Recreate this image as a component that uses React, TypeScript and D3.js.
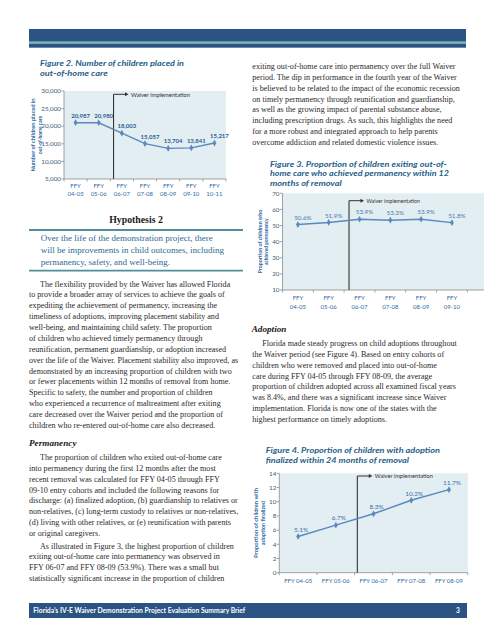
import React from "react";
import * as d3 from "d3";

// ---------------- Data ----------------
const fig2Years = ["04-05", "05-06", "06-07", "07-08", "08-09", "09-10", "10-11"];
const fig2Values = [20987, 20980, 18003, 15057, 13704, 13841, 15217];
const fig2Ticks = [5000, 10000, 15000, 20000, 25000, 30000];

const fig3Years = ["04-05", "05-06", "06-07", "07-08", "08-09", "09-10"];
const fig3Values = [50.6, 51.9, 53.9, 53.3, 53.9, 51.8];
const fig3Ticks = [10, 20, 30, 40, 50, 60, 70];

const fig4Years = ["FFY 04-05", "FFY 05-06", "FFY 06-07", "FFY 07-08", "FFY 08-09"];
const fig4Values = [5.1, 6.7, 8.3, 10.2, 11.7];
const fig4Ticks = [0, 2, 4, 6, 8, 10, 12, 14];

// ---------------- Text ----------------
const para1 = [
  "The flexibility provided by the Waiver has allowed Florida",
  "to provide a broader array of services to achieve the goals of",
  "expediting the achievement of permanency, increasing the",
  "timeliness of adoptions, improving placement stability and",
  "well-being, and maintaining child safety. The proportion",
  "of children who achieved timely permanency through",
  "reunification, permanent guardianship, or adoption increased",
  "over the life of the Waiver. Placement stability also improved, as",
  "demonstrated by an increasing proportion of children with two",
  "or fewer placements within 12 months of removal from home.",
  "Specific to safety, the number and proportion of children",
  "who experienced a recurrence of maltreatment after exiting",
  "care decreased over the Waiver period and the proportion of",
  "children who re-entered out-of-home care also decreased.",
];
const para2 = [
  "The proportion of children who exited out-of-home care",
  "into permanency during the first 12 months after the most",
  "recent removal was calculated for FFY 04-05 through FFY",
  "09-10 entry cohorts and included the following reasons for",
  "discharge: (a) finalized adoption, (b) guardianship to relatives or",
  "non-relatives, (c) long-term custody to relatives or non-relatives,",
  "(d) living with other relatives, or (e) reunification with parents",
  "or original caregivers.",
];
const para3 = [
  "As illustrated in Figure 3, the highest proportion of children",
  "exiting out-of-home care into permanency was observed in",
  "FFY 06-07 and FFY 08-09 (53.9%). There was a small but",
  "statistically significant increase in the proportion of children",
];
const paraR1 = [
  "exiting out-of-home care into permanency over the full Waiver",
  "period. The dip in performance in the fourth year of the Waiver",
  "is believed to be related to the impact of the economic recession",
  "on timely permanency through reunification and guardianship,",
  "as well as the growing impact of parental substance abuse,",
  "including prescription drugs. As such, this highlights the need",
  "for a more robust and integrated approach to help parents",
  "overcome addiction and related domestic violence issues.",
];
const paraR2 = [
  "Florida made steady progress on child adoptions throughout",
  "the Waiver period (see Figure 4). Based on entry cohorts of",
  "children who were removed and placed into out-of-home",
  "care during FFY 04-05 through FFY 08-09, the average",
  "proportion of children adopted across all examined fiscal years",
  "was 8.4%, and there was a significant increase since Waiver",
  "implementation. Florida is now one of the states with the",
  "highest performance on timely adoptions.",
];
const hypothesisLines = [
  "Over the life of the demonstration project, there",
  "will be improvements in child outcomes, including",
  "permanency, safety, and well-being.",
];

// ---------------- Styles ----------------
const SANS = "Lato, 'Open Sans', 'DejaVu Sans', sans-serif";
const SERIF = "'Liberation Serif', 'DejaVu Serif', serif";
const NAVY = "#2b5384";
const TEAL = "#7ab3b6";
const TITLE_BLUE = "#1f5f8b";
const AXIS_BLUE = "#2f6aa3";
const LINE_BLUE = "#5a88bf";
const BODY = "#2a2a2a";
const PLOT_BG = "#e2eef1";

type ChartProps = {
  labels: string[][];
  values: number[];
  yDomain: [number, number];
  yTicks: number[];
  tickFmt: (v: number) => string;
  labelFmt: (v: number) => string;
  left: number;
  right: number;
  top: number;
  bottom: number;
  bgRight: number;
  waiverAfter: number;
  waiverFrac: number;
  waiverDy: number;
  waiverTextLen: number;
  yTitle: string[];
  yTitleX: number[];
  yTitleLen: number[];
  xLabelY: number[];
  labelDx: number;
  labelWeight: number;
  labelColor: string;
  labelSize: number;
};

function LineChart(p: ChartProps) {
  const ids = p.labels.map((_, i) => String(i));
  const x = d3.scalePoint<string>().domain(ids).range([p.left, p.right]).padding(0.5);
  const band = d3.scaleBand<string>().domain(ids).range([p.left, p.right]);
  const y = d3.scaleLinear().domain(p.yDomain).range([p.bottom, p.top]);
  const line = d3
    .line<number>()
    .x((_, i) => x(ids[i]) as number)
    .y((v) => y(v));
  const step = x.step();
  const wx = (x(ids[p.waiverAfter]) as number) + p.waiverFrac * step;
  const wy = p.top + p.waiverDy;
  const arrowLen = 15;
  const tip = wx + arrowLen;
  const boundaries = ids.map((id) => band(id) as number).concat([p.right]);
  const marker = d3.symbol(d3.symbolDiamond, 13)() as string;
  const yMid = (p.top + p.bottom) / 2;

  return (
    <g>
      <rect x={p.left} y={p.top} width={p.bgRight - p.left} height={p.bottom - p.top} fill={PLOT_BG} />
      {/* y axis */}
      <line x1={p.left} x2={p.left} y1={p.top} y2={p.bottom} stroke="#8c8c8c" strokeWidth={0.8} />
      {p.yTicks.map((t) => (
        <g key={t}>
          <line x1={p.left - 2.5} x2={p.left} y1={y(t)} y2={y(t)} stroke="#8c8c8c" strokeWidth={0.8} />
          <text
            x={p.left - 3}
            y={y(t)}
            dy="0.35em"
            textAnchor="end"
            fontFamily={SANS}
            fontSize={6.3}
            fill="#3d5a78"
          >
            {p.tickFmt(t)}
          </text>
        </g>
      ))}
      {/* x axis */}
      <line x1={p.left} x2={p.bgRight} y1={p.bottom} y2={p.bottom} stroke="#8c8c8c" strokeWidth={0.8} />
      {boundaries.map((b, i) => (
        <line key={i} x1={b} x2={b} y1={p.bottom} y2={p.bottom + 2.5} stroke="#8c8c8c" strokeWidth={0.8} />
      ))}
      {p.labels.map((lines, i) =>
        lines.map((l, j) => (
          <text
            key={i + "-" + j}
            x={x(ids[i]) as number}
            y={p.xLabelY[j]}
            dy="0.35em"
            textAnchor="middle"
            fontFamily={SANS}
            fontSize={6}
            fill={AXIS_BLUE}
          >
            {l}
          </text>
        ))
      )}
      {/* y title */}
      {p.yTitle.map((t, i) => (
        <text
          key={t}
          transform={`translate(${p.yTitleX[i]},${yMid}) rotate(-90)`}
          dy="0.35em"
          textAnchor="middle"
          fontFamily={SANS}
          fontWeight={700}
          fontSize={6.3}
          fill={AXIS_BLUE}
          textLength={p.yTitleLen[i]}
          lengthAdjust="spacingAndGlyphs"
        >
          {t}
        </text>
      ))}
      {/* waiver marker */}
      <line x1={wx} x2={wx} y1={p.bottom} y2={wy} stroke="#333" strokeWidth={1.1} />
      <line x1={wx} x2={tip - 3} y1={wy} y2={wy} stroke="#333" strokeWidth={1} />
      <path d={`M${tip},${wy} L${tip - 3.5},${wy - 2} L${tip - 3.5},${wy + 2} Z`} fill="#333" />
      <text
        x={tip + 2.5}
        y={wy}
        dy="0.35em"
        fontFamily={SANS}
        fontSize={6.3}
        fill="#333"
        textLength={p.waiverTextLen}
        lengthAdjust="spacingAndGlyphs"
      >
        Waiver implementation
      </text>
      {/* line */}
      <path d={line(p.values) as string} fill="none" stroke={LINE_BLUE} strokeWidth={1.4} />
      {p.values.map((v, i) => (
        <path key={i} d={marker} transform={`translate(${x(ids[i])},${y(v)})`} fill={LINE_BLUE} />
      ))}
      {p.values.map((v, i) => (
        <text
          key={"l" + i}
          x={(x(ids[i]) as number) + p.labelDx}
          y={y(v) - 7}
          dy="0.35em"
          textAnchor="middle"
          fontFamily={SANS}
          fontWeight={p.labelWeight}
          fontSize={p.labelSize}
          fill={p.labelColor}
        >
          {p.labelFmt(v)}
        </text>
      ))}
    </g>
  );
}

function Para({
  lines,
  x,
  indent,
  y0,
  step,
  size = 8.1,
}: {
  lines: string[];
  x: number;
  indent: number;
  y0: number;
  step: number;
  size?: number;
}) {
  return (
    <g>
      {lines.map((l, i) => (
        <text
          key={i}
          x={i === 0 ? x + indent : x}
          y={y0 + i * step}
          dy="0.32em"
          fontFamily={SERIF}
          fontSize={size}
          fill={BODY}
        >
          {l}
        </text>
      ))}
    </g>
  );
}

function Title({ lines, x, ys, lens }: { lines: string[]; x: number; ys: number[]; lens: number[] }) {
  return (
    <g>
      {lines.map((l, i) => (
        <text
          key={i}
          x={x}
          y={ys[i]}
          fontFamily={SANS}
          fontWeight={700}
          fontStyle="italic"
          fontSize={8}
          fill={TITLE_BLUE}
          textLength={lens[i]}
          lengthAdjust="spacingAndGlyphs"
        >
          {l}
        </text>
      ))}
    </g>
  );
}

const fmtComma = d3.format(",");

export default function App() {
  return (
    <svg
      width={495}
      height={640}
      style={{ position: "absolute", left: 0, top: 0, background: "#fff" }}
    >
      {/* header bar */}
      <rect x={29} y={29} width={437} height={18.7} fill={NAVY} />
      <rect x={29} y={41.3} width={437} height={2.6} fill={TEAL} />

      {/* Figure 2 */}
      <Title
        lines={["Figure 2. Number of children placed in", "out-of-home care"]}
        x={40}
        ys={[66, 75.7]}
        lens={[144, 67.7]}
      />
      <LineChart
        labels={fig2Years.map((y) => ["FFY", y])}
        values={fig2Values}
        yDomain={[5000, 30000]}
        yTicks={fig2Ticks}
        tickFmt={(v) => fmtComma(v)}
        labelFmt={(v) => fmtComma(v)}
        left={64}
        right={226}
        bgRight={226}
        top={91}
        bottom={179}
        waiverAfter={1}
        waiverFrac={0.64}
        waiverDy={3.3}
        waiverTextLen={59}
        yTitle={["Number of children placed in", "out-of-home care"]}
        yTitleX={[32.3, 40]}
        yTitleLen={[73, 38]}
        xLabelY={[186, 194]}
        labelDx={5}
        labelWeight={700}
        labelColor="#2d5d96"
        labelSize={6}
      />

      {/* Hypothesis */}
      <text x={136} y={220} dy="0.35em" textAnchor="middle" fontFamily={SERIF} fontWeight={700} fontSize={9.8} fill="#1a1a1a">
        Hypothesis 2
      </text>
      <line x1={29} x2={243} y1={230} y2={230} stroke="#4f8f9a" strokeWidth={1.8} />
      <line x1={29} x2={243} y1={270.7} y2={270.7} stroke="#4f8f9a" strokeWidth={1.8} />
      {hypothesisLines.map((l, i) => (
        <text key={i} x={40.7} y={238.3 + i * 11.8} dy="0.33em" fontFamily={SERIF} fontSize={9} fill="#2d6a8e">
          {l}
        </text>
      ))}

      <Para lines={para1} x={29} indent={11} y0={284} step={10.87} />
      <text x={29} y={442.7} dy="0.33em" fontFamily={SERIF} fontWeight={700} fontStyle="italic" fontSize={9.2} fill="#1a1a1a">
        Permanency
      </text>
      <Para lines={para2} x={29} indent={11} y0={457.3} step={10.9} />
      <Para lines={para3} x={29} indent={11} y0={546} step={10.9} />

      {/* Right column */}
      <Para lines={paraR1} x={252.3} indent={0} y0={66.7} step={10.8} />

      <Title
        lines={[
          "Figure 3. Proportion of children exiting out-of-",
          "home care who achieved permanency within 12",
          "months of removal",
        ]}
        x={270}
        ys={[166.8, 176.3, 185.8]}
        lens={[176.7, 179, 71.7]}
      />
      <LineChart
        labels={fig3Years.map((y) => ["FFY", y])}
        values={fig3Values}
        yDomain={[10, 70]}
        yTicks={fig3Ticks}
        tickFmt={(v) => String(v)}
        labelFmt={(v) => v.toFixed(1) + "%"}
        left={282.5}
        right={467.3}
        bgRight={484}
        top={193.3}
        bottom={290}
        waiverAfter={1}
        waiverFrac={0.66}
        waiverDy={7.4}
        waiverTextLen={53.3}
        yTitle={["Proportion of children who", "achieved permanency"]}
        yTitleX={[259.3, 265.7]}
        yTitleLen={[63.7, 46.6]}
        xLabelY={[297.7, 306.7]}
        labelDx={5}
        labelWeight={400}
        labelColor="#4a7bb0"
        labelSize={6.3}
      />

      <text x={251.7} y={329.3} dy="0.33em" fontFamily={SERIF} fontWeight={700} fontStyle="italic" fontSize={9.2} fill="#1a1a1a">
        Adoption
      </text>
      <Para lines={paraR2} x={252.3} indent={10} y0={343.3} step={10.9} />

      <Title
        lines={["Figure 4. Proportion of children with adoption", "finalized within 24 months of removal"]}
        x={265.7}
        ys={[453.3, 463.3]}
        lens={[174.3, 143.3]}
      />
      <LineChart
        labels={fig4Years.map((y) => [y])}
        values={fig4Values}
        yDomain={[0, 14]}
        yTicks={fig4Ticks}
        tickFmt={(v) => String(v)}
        labelFmt={(v) => v.toFixed(1) + "%"}
        left={279.3}
        right={467.8}
        bgRight={467.8}
        top={473.3}
        bottom={572.7}
        waiverAfter={1}
        waiverFrac={0.57}
        waiverDy={2.7}
        waiverTextLen={58}
        yTitle={["Proportion of children with", "adoption finalized"]}
        yTitleX={[256, 262.3]}
        yTitleLen={[70, 44.3]}
        xLabelY={[580.7]}
        labelDx={3}
        labelWeight={400}
        labelColor="#3b6ea5"
        labelSize={6.5}
      />

      {/* footer */}
      <rect x={29} y={603} width={438} height={15} fill={NAVY} />
      <text
        x={33.3}
        y={611}
        dy="0.35em"
        fontFamily={SANS}
        fontWeight={700}
        fontSize={6.6}
        fill="#fff"
        textLength={212}
        lengthAdjust="spacingAndGlyphs"
      >
        Florida’s IV-E Waiver Demonstration Project  Evaluation Summary Brief
      </text>
      <text x={458} y={611} dy="0.35em" textAnchor="middle" fontFamily={SANS} fontWeight={700} fontSize={6.6} fill="#fff">
        3
      </text>
    </svg>
  );
}
